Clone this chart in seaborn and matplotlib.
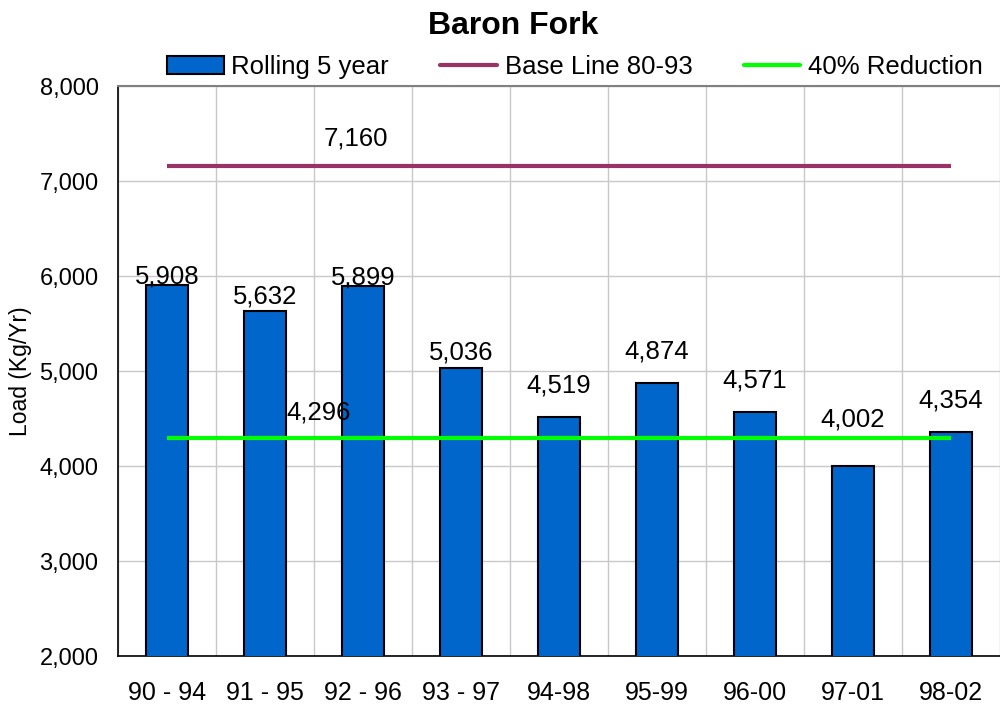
import matplotlib
matplotlib.use('Agg')
import matplotlib.pyplot as plt
from matplotlib.ticker import FuncFormatter, MultipleLocator, FixedLocator
import numpy as np
import pandas as pd
import seaborn as sns

periods = ['90 - 94', '91 - 95', '92 - 96', '93 - 97', '94-98',
           '95-99', '96-00', '97-01', '98-02']
rolling_load = [5908, 5632, 5899, 5036, 4519, 4874, 4571, 4002, 4354]
base_line = 7160
reduction_40 = 4296

# label offsets (points) so labels clear the reduction line, like the original
label_pad = [-3, 2, -3, 2, 14, 14, 14, 25, 14]

sns.set_style('white')
plt.rcParams['font.family'] = ['Liberation Sans', 'DejaVu Sans']
plt.rcParams['text.color'] = 'black'
plt.rcParams['axes.labelcolor'] = 'black'
plt.rcParams['xtick.color'] = 'black'
plt.rcParams['ytick.color'] = 'black'

df = pd.DataFrame({'period': periods, 'load': rolling_load})

fig = plt.figure(figsize=(10, 7.08), dpi=100)
ax = fig.add_axes([0.118, 0.0734, 0.882, 0.805])

sns.barplot(data=df, x='period', y='load', color='#0066CC', width=0.42,
            edgecolor='black', linewidth=1.5, saturation=1, ax=ax, zorder=3)

n = len(periods)
xs = np.arange(n)
ax.plot(xs, [base_line] * n, color='#993366', lw=3, zorder=4, solid_capstyle='butt')
ax.plot(xs, [reduction_40] * n, color='#00FF00', lw=3, zorder=4, solid_capstyle='butt')

fmt = lambda v: f'{v:,.0f}'
for i, (v, p) in enumerate(zip(rolling_load, label_pad)):
    ax.annotate(fmt(v), (i, v), xytext=(0, p), textcoords='offset points',
                ha='center', va='bottom', fontsize=18.5, zorder=5)
ax.annotate(fmt(base_line), (1.93, base_line), xytext=(0, 11), textcoords='offset points',
            ha='center', va='bottom', fontsize=18.5, zorder=5)
ax.annotate(fmt(reduction_40), (1.55, reduction_40), xytext=(0, 10), textcoords='offset points',
            ha='center', va='bottom', fontsize=18.5, zorder=5)

ax.set_xlim(-0.5, n - 0.5)
ax.set_ylim(2000, 8000)
ax.yaxis.set_major_locator(MultipleLocator(1000))
ax.yaxis.set_minor_locator(MultipleLocator(500))
ax.yaxis.set_major_formatter(FuncFormatter(lambda v, _: f'{v:,.0f}'))
ax.xaxis.set_minor_locator(FixedLocator(np.arange(n + 1) - 0.5))

ax.tick_params(axis='x', which='major', length=0, labelsize=18, pad=18)
ax.tick_params(axis='x', which='minor', length=6, width=1, color='black', direction='out')
ax.tick_params(axis='y', which='both', length=5, width=1, color='black', direction='out',
               labelsize=17, pad=9)

ax.grid(False)
ax.grid(axis='y', which='major', color='#c8c8c8', lw=1, zorder=0)
ax.grid(axis='x', which='minor', color='#c8c8c8', lw=1, zorder=0)
ax.set_axisbelow(True)

ax.set_xlabel('')
ax.set_ylabel('Load (Kg/Yr)', fontsize=16.5, labelpad=5)

for side in ['left', 'bottom']:
    ax.spines[side].set_color('black')
    ax.spines[side].set_linewidth(1.2)
ax.spines['top'].set_color('#808080')
ax.spines['top'].set_linewidth(1.5)
ax.spines['right'].set_visible(False)

handles = [
    plt.Rectangle((0, 0), 1, 1, facecolor='#0066CC', edgecolor='black', lw=1.5),
    plt.Line2D([], [], color='#993366', lw=3),
    plt.Line2D([], [], color='#00FF00', lw=3),
]
fig.legend(handles, ['Rolling 5 year', 'Base Line 80-93', '40% Reduction'],
           loc='center', bbox_to_anchor=(0.575, 0.905), ncol=3, frameon=False,
           fontsize=18.5, handlelength=2.2, handletextpad=0.3, columnspacing=2.0)

fig.suptitle('Baron Fork', fontsize=23, fontweight='bold', x=0.513, y=0.985)

fig.savefig('out.png', dpi=100)
